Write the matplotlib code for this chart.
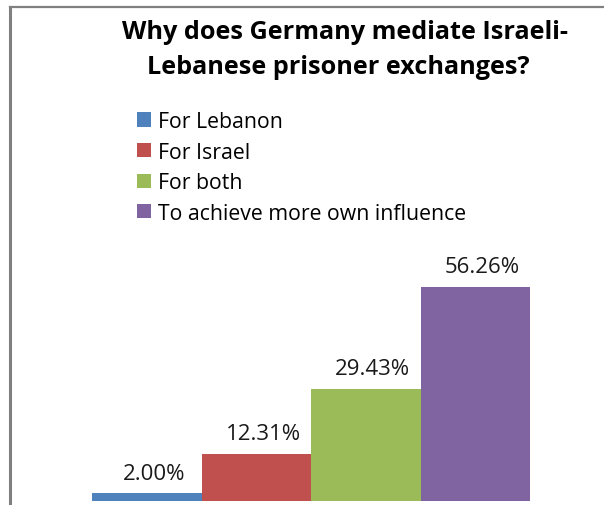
import matplotlib.pyplot as plt
from matplotlib.lines import Line2D

# survey answers (percent)
categories = ['For Lebanon', 'For Israel', 'For both', 'To achieve more own influence']
shares = [2.00, 12.31, 29.43, 56.26]
colors = ['#4F81BD', '#C0504D', '#9BBB59', '#8064A2']

plt.rcParams['font.family'] = ['Open Sans', 'DejaVu Sans']

W, H = 604, 506
fig = plt.figure(figsize=(W / 100, H / 100), dpi=100)

# plot area
ax = fig.add_axes([92 / W, 4 / H, 438 / W, 252 / H])
bars = ax.bar(range(len(shares)), shares, width=1.0, color=colors)
ax.set_xlim(-0.5, len(shares) - 0.5)
ax.set_ylim(0, 252 / 3.80)
ax.axis('off')

for i, v in enumerate(shares):
    ax.annotate(f'{v:.2f}%', (i, v), textcoords='offset points', xytext=(5, 7),
                ha='center', va='bottom', fontsize=16, color='#1a1a1a')

# title (two lines)
fig.text(345 / W, 1 - 39 / H, 'Why does Germany mediate Israeli-',
         ha='center', va='baseline', fontsize=18.2, fontweight='bold')
fig.text(338 / W, 1 - 74 / H, 'Lebanese prisoner exchanges?',
         ha='center', va='baseline', fontsize=18.2, fontweight='bold')

# legend
fig.legend(bars, categories, loc='upper left',
           bbox_to_anchor=(137 / W, 1 - 112 / H), bbox_transform=fig.transFigure,
           frameon=False, fontsize=15.3, borderpad=0, borderaxespad=0,
           handlelength=0.65, handleheight=0.65, handletextpad=0.35,
           labelspacing=0.45)

# chart border (left and top edges)
fig.add_artist(Line2D([10 / W, 10 / W], [0, 1 - 8 / H], transform=fig.transFigure,
                      color='#808080', lw=2.2))
fig.add_artist(Line2D([10 / W, 1], [1 - 8 / H, 1 - 8 / H], transform=fig.transFigure,
                      color='#808080', lw=1.6))

fig.savefig('out.png', dpi=100)
